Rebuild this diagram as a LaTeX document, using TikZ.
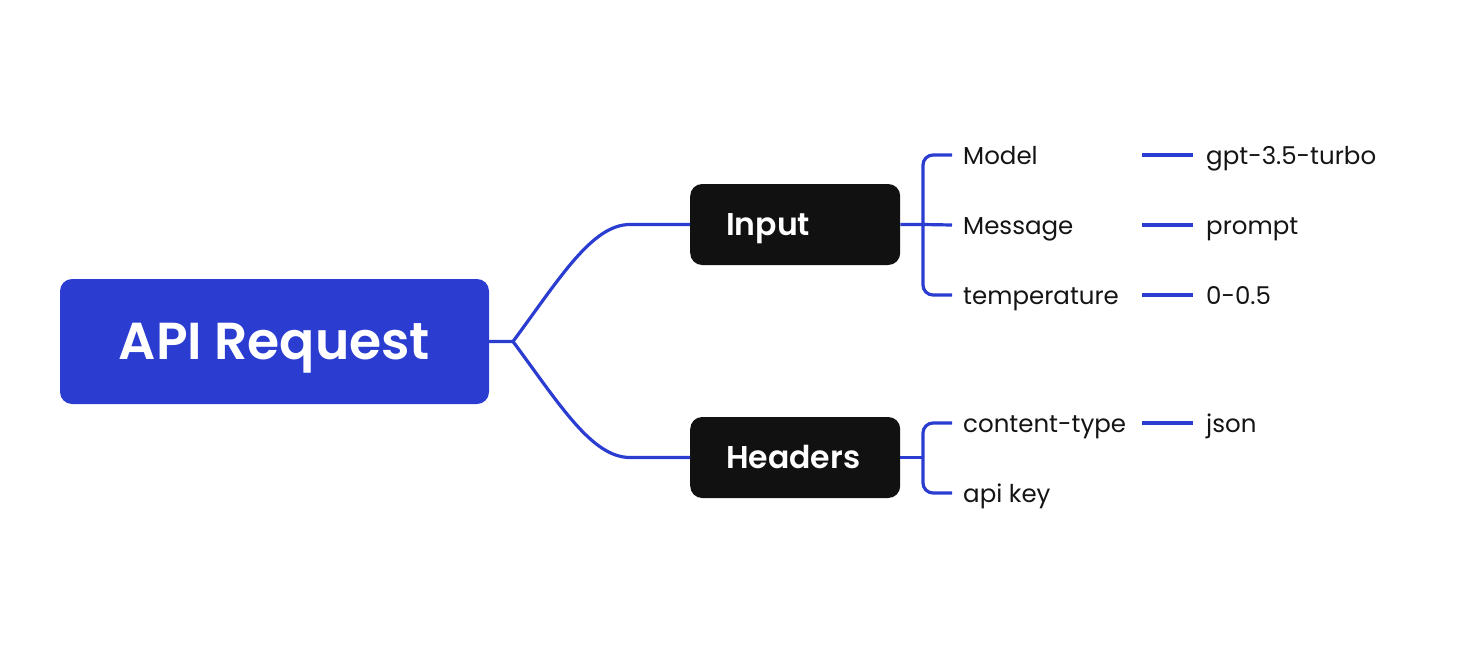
\documentclass[tikz,border=0pt]{standalone}
\usepackage{fontspec}
\setmainfont{Poppins}[BoldFont={Poppins SemiBold}]
\definecolor{brandblue}{RGB}{43,61,209}
\definecolor{boxblack}{RGB}{17,17,17}
\definecolor{labeltext}{RGB}{20,20,20}
\begin{document}
\begin{tikzpicture}[x=1pt,y=-1pt,
  link/.style={draw=brandblue,line width=3.2pt},
  rootbox/.style={fill=brandblue,rounded corners=12pt,minimum width=429pt,minimum height=125pt,inner sep=0pt,text=white,text height=36pt,text depth=0pt,font=\fontsize{52}{60}\selectfont\bfseries},
  catbox/.style={fill=boxblack,rounded corners=12pt,inner xsep=36pt,inner ysep=0pt,text width=138pt,align=left,minimum height=81pt,text=white,text height=22pt,text depth=0pt,font=\fontsize{31.5}{36}\selectfont\bfseries},
  leaf/.style={inner sep=0pt,text=labeltext,text height=18pt,text depth=0pt,font=\fontsize{24.5}{30}\selectfont},
]
\useasboundingbox (0,0) rectangle (1476,672);
\node[rootbox] (api) at (274.5,341.5) {API Request};
\node[catbox,anchor=west] (input) at (690,224.5) {Input};
\node[catbox,anchor=west] (headers) at (690,457.5) {Headers};
\node[leaf,anchor=west] (model) at (963,155) {Model};
\node[leaf,anchor=west] (message) at (963,225) {Message};
\node[leaf,anchor=west] (temperature) at (963,295) {temperature};
\node[leaf,anchor=west] (ctype) at (963,423) {content-type};
\node[leaf,anchor=west] (apikey) at (963,493) {api key};
\node[leaf,anchor=west] (gpt) at (1206,155) {gpt-3.5-turbo};
\node[leaf,anchor=west] (prompt) at (1206,225) {prompt};
\node[leaf,anchor=west] (range) at (1206,295) {0-0.5};
\node[leaf,anchor=west] (json) at (1206,423) {json};
\coordinate (j) at (513,341.5);
\coordinate (bi) at (923,224.5);
\coordinate (bh) at (923,457.5);
% root to categories
\draw[link] (api.east) -- (j) .. controls (560,278) and (592,224.5) .. ([xshift=-60pt]input.west) -- (input.west);
\draw[link] (j) .. controls (560,405) and (592,457.5) .. ([xshift=-60pt]headers.west) -- (headers.west);
% input bracket
\draw[link] (input.east) -- (bi) -- ([xshift=-11pt]message.west);
\draw[link,rounded corners=10pt] ([xshift=-11pt]model.west) -| (bi) |- ([xshift=-11pt]temperature.west);
% headers bracket
\draw[link] (headers.east) -- (bh);
\draw[link,rounded corners=10pt] ([xshift=-11pt]ctype.west) -| (bh) |- ([xshift=-11pt]apikey.west);
% value connectors
\draw[link] ([xshift=-64pt]gpt.west) -- ([xshift=-13pt]gpt.west);
\draw[link] ([xshift=-64pt]prompt.west) -- ([xshift=-13pt]prompt.west);
\draw[link] ([xshift=-64pt]range.west) -- ([xshift=-13pt]range.west);
\draw[link] ([xshift=-64pt]json.west) -- ([xshift=-13pt]json.west);
\end{tikzpicture}
\end{document}
